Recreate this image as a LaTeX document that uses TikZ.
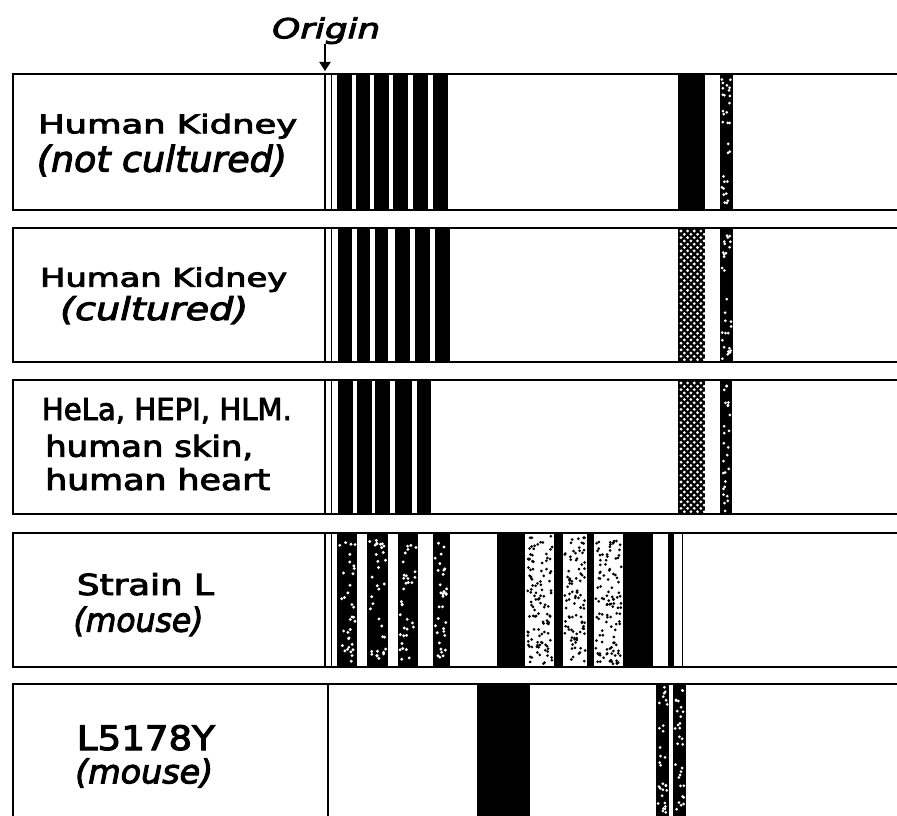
\documentclass[tikz,border=0pt]{standalone}
\usepackage{fontspec}
\setmainfont[FakeBold=3]{DejaVu Sans}
\usetikzlibrary{arrows.meta}
\newcommand\fitlbl[3]{\resizebox{#1pt}{#2pt}{#3}}
% random specks: x1 x2 y1 y2 n colour radius
\newcommand\speckle[7]{%
  \foreach \k in {1,...,#5}{%
    \pgfmathsetmacro\sx{#1+#7+0.3+rnd*(#2-#1-2*#7-0.6)}%
    \pgfmathsetmacro\sy{#3+#7+1.5+rnd*(#4-#3-2*#7-3)}%
    \fill[#6] (\sx,\sy) circle[radius=#7pt];}}
% black band with regular lattice of white dots: x1 x2 y1 y2
\newcommand\lattice[4]{%
  \begin{scope}
    \clip (#1,#3) rectangle (#2,#4);
    \fill (#1,#3) rectangle (#2,#4);
    \foreach \r in {0,...,40}{%
      \foreach \c in {0,...,4}{%
        \pgfmathsetmacro\lx{#1+3+\c*6.6+mod(\r,2)*3.3}%
        \pgfmathsetmacro\ly{#3+3+\r*3.3}%
        \fill[white] (\lx,\ly) circle[radius=1.55pt];}}
  \end{scope}}
\begin{document}
\begin{tikzpicture}[x=1pt,y=-1pt,
  rowline/.style={line width=2.4pt},
  divline/.style={line width=2pt},
  thinline/.style={line width=1pt},
  lbl/.style={anchor=base west,inner sep=0pt,font=\fontsize{20}{24}\selectfont},
  pointer/.style={line width=2pt,-{Triangle[length=9pt,width=11pt]}}]
\useasboundingbox (0,0) rectangle (897,816);
\fill[white] (0,0) rectangle (897,816);
\pgfmathsetseed{17}

% ---------- Row 1 bands ----------
\foreach \a/\b in {337/352,356/370,374/389,393/408,413/428,433/448}
  \fill (\a,74) rectangle (\b,210);
\fill (678,74) rectangle (705,210);
\fill (720,74) rectangle (733,210);
\speckle{720}{733}{74}{210}{30}{white}{1.5}

% ---------- Row 2 bands ----------
\foreach \a/\b in {338/352,357/370,375/388,395/410,415/430,435/450}
  \fill (\a,228) rectangle (\b,362);
\lattice{678}{705}{228}{362}
\fill (720,228) rectangle (733,362);
\speckle{720}{733}{228}{362}{30}{white}{1.5}

% ---------- Row 3 bands ----------
\foreach \a/\b in {338/353,357/372,375/390,395/412,417/431}
  \fill (\a,380) rectangle (\b,514);
\lattice{678}{705}{380}{514}
\fill (720,380) rectangle (732,514);
\speckle{720}{732}{380}{514}{26}{white}{1.5}

% ---------- Row 4 bands ----------
\foreach \a/\b in {337/357,367/388,398/418,433/450}{
  \fill (\a,533) rectangle (\b,667);
  \speckle{\a}{\b}{533}{667}{34}{white}{1.6}
}
\fill (497,533) rectangle (525,667);
\speckle{525}{554}{533}{667}{115}{black}{1.5}
\fill (554,533) rectangle (563,667);
\speckle{563}{587}{533}{667}{95}{black}{1.5}
\fill (587,533) rectangle (594,667);
\speckle{594}{623}{533}{667}{115}{black}{1.5}
\fill (623,533) rectangle (653,667);
\fill (668,533) rectangle (674,667);
\draw[thinline] (682,533) -- (682,667);

% ---------- Row 5 bands ----------
\fill (477,684) rectangle (530,816);
\fill (656,684) rectangle (669,816);
\speckle{656}{669}{684}{816}{30}{white}{1.5}
\fill (673,684) rectangle (686,816);
\speckle{673}{686}{684}{816}{30}{white}{1.5}

% ---------- Row frames ----------
\foreach \t/\b in {74/210,228/362,380/514,533/667}{
  \draw[rowline] (897,\t) -- (13,\t) -- (13,\b) -- (897,\b);
  \draw[divline] (325,\t) -- (325,\b);
  \draw[thinline] (331,\t) -- (331,\b);
}
\draw[rowline] (897,684) -- (13,684) -- (13,816);
\draw[divline] (328,684) -- (328,816);

% ---------- Labels ----------
\node[lbl] (r1a) at (38,133.3) {\fitlbl{259}{19.5}{Human Kidney}};
\node[lbl] (r1b) at (36.7,171.7) {\fitlbl{250}{27}{\itshape (not cultured)}};
\node[lbl] (r2a) at (40,286.7) {\fitlbl{247}{19.5}{Human Kidney}};
\node[lbl] (r2b) at (60,320) {\fitlbl{188}{24}{\itshape (cultured)}};
\node[lbl] (r3a) at (41.7,420) {\fitlbl{250}{22}{HeLa, HEPI, HLM.}};
\node[lbl] (r3b) at (45,456.7) {\fitlbl{208}{22}{human skin,}};
\node[lbl] (r3c) at (45,490) {\fitlbl{225}{22}{human heart}};
\node[lbl] (r4a) at (76.7,595) {\fitlbl{137}{22}{Strain L}};
\node[lbl] (r4b) at (73.3,631.7) {\fitlbl{130}{25}{\itshape (mouse)}};
\node[lbl] (r5a) at (76.7,750) {\fitlbl{138}{25}{L5178Y}};
\node[lbl] (r5b) at (75,783.3) {\fitlbl{138}{25}{\itshape (mouse)}};

% ---------- Origin ----------
\node[lbl] (orig) at (272,38.3) {\fitlbl{108}{21}{\itshape Origin}};
\coordinate (otip) at (325,71);
\draw[pointer] (orig.south -| otip) -- (otip);
\end{tikzpicture}
\end{document}
